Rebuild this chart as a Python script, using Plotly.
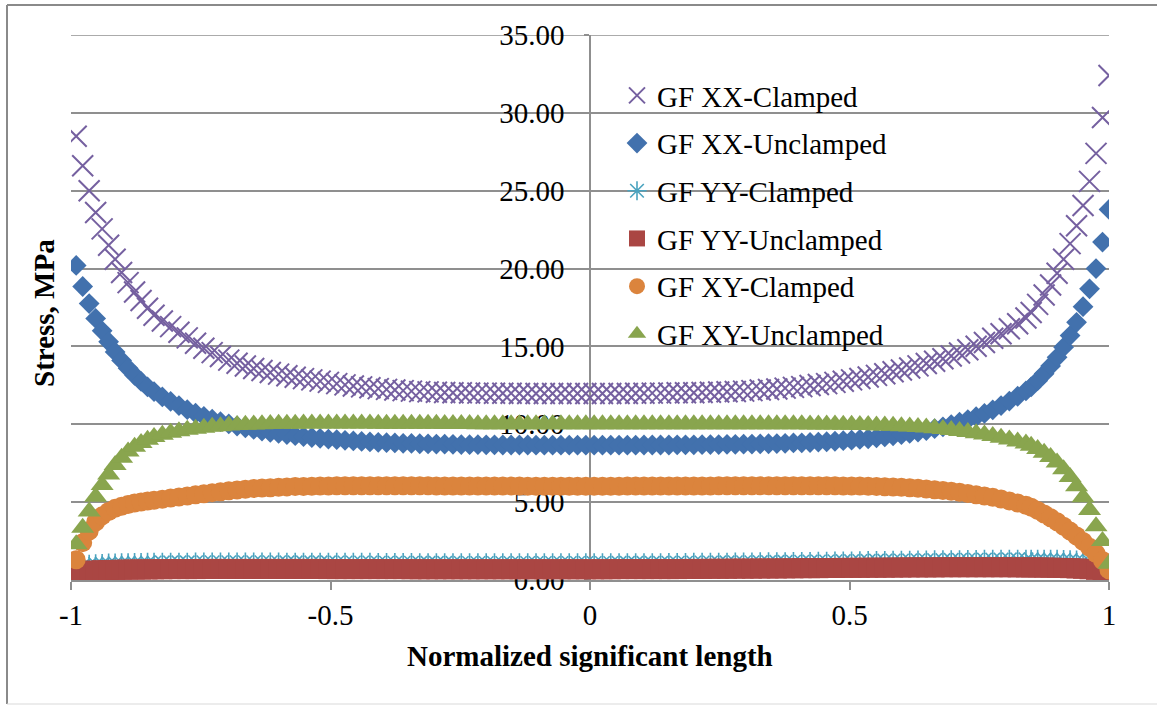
import plotly.graph_objects as go

# Normalized positions along the significant length (finer spacing near both ends)
x_pos = [
    -0.99, -0.9775, -0.965, -0.9525, -0.94, -0.9275, -0.915, -0.9025, -0.89, -0.8775, -0.865, -0.8525, -0.84,
    -0.824, -0.808, -0.792, -0.776, -0.76, -0.744, -0.728, -0.712, -0.696, -0.68, -0.664, -0.648, -0.632, -0.616, -0.6,
    -0.584, -0.568, -0.552, -0.536, -0.52, -0.504, -0.488, -0.472, -0.456, -0.44, -0.424, -0.408, -0.392, -0.376, -0.36,
    -0.344, -0.328, -0.312, -0.296, -0.28, -0.264, -0.248, -0.232, -0.216, -0.2, -0.184, -0.168, -0.152, -0.136, -0.12,
    -0.104, -0.088, -0.072, -0.056, -0.04, -0.024, -0.008, 0.008, 0.024, 0.04, 0.056, 0.072, 0.088, 0.104, 0.12,
    0.136, 0.152, 0.168, 0.184, 0.2, 0.216, 0.232, 0.248, 0.264, 0.28, 0.296, 0.312, 0.328, 0.344, 0.36,
    0.376, 0.392, 0.408, 0.424, 0.44, 0.456, 0.472, 0.488, 0.504, 0.52, 0.536, 0.552, 0.568, 0.584, 0.6,
    0.616, 0.632, 0.648, 0.664, 0.68, 0.696, 0.712, 0.728, 0.744, 0.76, 0.776, 0.792, 0.808, 0.824, 0.84,
    0.85, 0.8625, 0.875, 0.8875, 0.9, 0.9125, 0.925, 0.9375, 0.95, 0.9625, 0.975, 0.9875, 1.0,
]

# Stress values, MPa
gf_xx_clamped = [
    28.5, 26.6, 25.0, 23.6, 22.55, 21.5, 20.6, 19.75, 19.1, 18.5, 17.95, 17.45, 17.0,
    16.63, 16.27, 15.91, 15.55, 15.2, 14.88, 14.6, 14.35, 14.12, 13.92, 13.74, 13.58, 13.45, 13.33, 13.22,
    13.12, 13.02, 12.93, 12.85, 12.77, 12.69, 12.61, 12.53, 12.46, 12.4, 12.35, 12.29, 12.24, 12.2, 12.16,
    12.13, 12.1, 12.08, 12.06, 12.04, 12.03, 12.02, 12.01, 12.0, 12.0, 11.99, 11.99, 11.99, 11.98, 11.98,
    11.98, 11.98, 11.98, 11.98, 11.98, 11.98, 11.98, 11.98, 11.98, 11.98, 11.98, 11.98, 11.99, 11.99, 12.0,
    12.0, 12.01, 12.02, 12.02, 12.03, 12.04, 12.06, 12.07, 12.09, 12.11, 12.13, 12.16, 12.2, 12.23, 12.27,
    12.32, 12.37, 12.42, 12.49, 12.55, 12.61, 12.69, 12.76, 12.85, 12.94, 13.04, 13.14, 13.25, 13.37, 13.49,
    13.62, 13.75, 13.9, 14.05, 14.21, 14.39, 14.58, 14.79, 15.01, 15.25, 15.52, 15.81, 16.13, 16.46, 16.83,
    17.18, 17.7, 18.3, 18.95, 19.7, 20.6, 21.6, 22.75, 24.05, 25.6, 27.4, 29.7, 32.4,
]

gf_xx_unclamped = [
    20.2, 18.85, 17.75, 16.8, 16.0, 15.3, 14.65, 14.1, 13.6, 13.15, 12.75, 12.4, 12.1,
    11.76, 11.47, 11.2, 10.94, 10.71, 10.51, 10.33, 10.17, 10.02, 9.89, 9.77, 9.67, 9.57, 9.48, 9.41,
    9.34, 9.27, 9.21, 9.15, 9.1, 9.05, 9.01, 8.97, 8.93, 8.9, 8.87, 8.84, 8.82, 8.8, 8.78,
    8.77, 8.75, 8.74, 8.73, 8.72, 8.71, 8.7, 8.69, 8.69, 8.68, 8.68, 8.67, 8.67, 8.67, 8.67,
    8.66, 8.66, 8.66, 8.66, 8.66, 8.66, 8.66, 8.66, 8.66, 8.66, 8.66, 8.66, 8.66, 8.67, 8.67,
    8.67, 8.67, 8.68, 8.68, 8.68, 8.69, 8.7, 8.7, 8.71, 8.71, 8.72, 8.73, 8.74, 8.75, 8.76,
    8.78, 8.8, 8.81, 8.83, 8.86, 8.88, 8.91, 8.95, 8.98, 9.03, 9.07, 9.13, 9.19, 9.26, 9.33,
    9.41, 9.5, 9.6, 9.72, 9.84, 9.98, 10.13, 10.3, 10.49, 10.7, 10.93, 11.2, 11.49, 11.8, 12.14,
    12.4, 12.8, 13.25, 13.75, 14.3, 14.95, 15.7, 16.55, 17.55, 18.7, 20.0, 21.7, 23.8,
]

gf_yy_clamped = [
    0.85, 0.92, 0.97, 1.0, 1.02, 1.04, 1.05, 1.06, 1.07, 1.08, 1.08, 1.09, 1.09,
    1.1, 1.1, 1.1, 1.1, 1.11, 1.11, 1.11, 1.11, 1.11, 1.11, 1.11, 1.11, 1.11, 1.11, 1.11,
    1.1, 1.1, 1.1, 1.1, 1.1, 1.1, 1.09, 1.09, 1.09, 1.09, 1.09, 1.08, 1.08, 1.08, 1.08,
    1.08, 1.07, 1.07, 1.07, 1.07, 1.07, 1.06, 1.06, 1.06, 1.06, 1.06, 1.06, 1.06, 1.06, 1.06,
    1.06, 1.06, 1.06, 1.06, 1.06, 1.06, 1.06, 1.06, 1.06, 1.06, 1.07, 1.07, 1.07, 1.07, 1.07,
    1.07, 1.08, 1.08, 1.08, 1.09, 1.09, 1.09, 1.1, 1.1, 1.11, 1.11, 1.11, 1.12, 1.12, 1.13,
    1.13, 1.14, 1.14, 1.15, 1.16, 1.16, 1.17, 1.18, 1.18, 1.19, 1.2, 1.21, 1.21, 1.22, 1.22,
    1.23, 1.24, 1.24, 1.25, 1.25, 1.26, 1.26, 1.27, 1.27, 1.28, 1.28, 1.28, 1.29, 1.29, 1.29,
    1.29, 1.29, 1.29, 1.28, 1.28, 1.27, 1.26, 1.24, 1.22, 1.19, 1.15, 1.08, 0.95,
]

gf_yy_unclamped = [
    0.52, 0.56, 0.59, 0.61, 0.63, 0.64, 0.65, 0.66, 0.67, 0.67, 0.68, 0.68, 0.69,
    0.69, 0.7, 0.7, 0.7, 0.7, 0.71, 0.71, 0.71, 0.71, 0.71, 0.71, 0.71, 0.71, 0.71, 0.71,
    0.71, 0.71, 0.71, 0.71, 0.71, 0.7, 0.7, 0.7, 0.7, 0.7, 0.7, 0.7, 0.7, 0.7, 0.7,
    0.69, 0.69, 0.69, 0.69, 0.69, 0.69, 0.69, 0.69, 0.69, 0.69, 0.69, 0.69, 0.69, 0.69, 0.69,
    0.69, 0.69, 0.69, 0.69, 0.69, 0.69, 0.69, 0.69, 0.69, 0.69, 0.7, 0.7, 0.7, 0.7, 0.7,
    0.7, 0.7, 0.7, 0.71, 0.71, 0.71, 0.72, 0.72, 0.72, 0.73, 0.73, 0.73, 0.74, 0.74, 0.74,
    0.75, 0.75, 0.76, 0.76, 0.76, 0.77, 0.77, 0.78, 0.78, 0.78, 0.79, 0.79, 0.79, 0.8, 0.8,
    0.81, 0.81, 0.81, 0.81, 0.82, 0.82, 0.82, 0.82, 0.82, 0.82, 0.82, 0.82, 0.82, 0.81, 0.81,
    0.81, 0.8, 0.8, 0.79, 0.78, 0.77, 0.76, 0.74, 0.72, 0.69, 0.65, 0.59, 0.5,
]

gf_xy_clamped = [
    1.3, 2.4, 3.15, 3.72, 4.12, 4.4, 4.6, 4.74, 4.85, 4.94, 5.01, 5.07, 5.12,
    5.18, 5.26, 5.33, 5.4, 5.47, 5.54, 5.61, 5.67, 5.73, 5.78, 5.83, 5.87, 5.91, 5.93, 5.96,
    5.98, 6.0, 6.01, 6.02, 6.03, 6.04, 6.05, 6.05, 6.05, 6.05, 6.05, 6.05, 6.05, 6.05, 6.05,
    6.05, 6.05, 6.05, 6.04, 6.04, 6.04, 6.04, 6.04, 6.03, 6.03, 6.03, 6.03, 6.03, 6.03, 6.02,
    6.02, 6.02, 6.02, 6.02, 6.02, 6.02, 6.02, 6.02, 6.02, 6.02, 6.02, 6.03, 6.03, 6.03, 6.03,
    6.03, 6.03, 6.03, 6.04, 6.04, 6.04, 6.04, 6.05, 6.05, 6.05, 6.05, 6.05, 6.05, 6.05, 6.05,
    6.05, 6.05, 6.05, 6.05, 6.05, 6.05, 6.05, 6.04, 6.04, 6.03, 6.02, 6.0, 5.99, 5.97, 5.95,
    5.92, 5.89, 5.85, 5.8, 5.75, 5.7, 5.63, 5.56, 5.48, 5.4, 5.31, 5.2, 5.08, 4.95, 4.8,
    4.68, 4.47, 4.24, 4.0, 3.74, 3.45, 3.14, 2.82, 2.48, 2.1, 1.7, 1.25, 0.65,
]

gf_xy_unclamped = [
    2.3, 3.35, 4.4, 5.35, 6.1, 6.78, 7.38, 7.85, 8.25, 8.55, 8.8, 9.0, 9.18,
    9.33, 9.46, 9.56, 9.65, 9.72, 9.78, 9.84, 9.88, 9.92, 9.95, 9.97, 9.99, 10.01, 10.02, 10.03,
    10.04, 10.04, 10.05, 10.05, 10.05, 10.05, 10.05, 10.05, 10.05, 10.05, 10.05, 10.04, 10.04, 10.04, 10.04,
    10.03, 10.03, 10.03, 10.03, 10.02, 10.02, 10.02, 10.02, 10.01, 10.01, 10.01, 10.01, 10.0, 10.0, 10.0,
    10.0, 10.0, 10.0, 10.0, 10.0, 10.0, 10.0, 10.0, 10.0, 10.0, 10.0, 10.0, 10.0, 10.0, 10.0,
    10.0, 10.0, 10.0, 10.0, 10.0, 10.0, 10.0, 10.0, 10.0, 10.0, 10.0, 10.0, 10.0, 10.0, 10.0,
    10.0, 10.0, 10.0, 9.99, 9.99, 9.99, 9.98, 9.97, 9.97, 9.96, 9.95, 9.93, 9.92, 9.9, 9.88,
    9.86, 9.83, 9.79, 9.74, 9.69, 9.64, 9.57, 9.5, 9.43, 9.34, 9.25, 9.14, 9.03, 8.9, 8.76,
    8.62, 8.42, 8.18, 7.9, 7.55, 7.12, 6.62, 6.02, 5.32, 4.5, 3.45, 2.5, 1.05,
]

x_tick_vals = [-1, -0.5, 0, 0.5, 1]
x_tick_text = ["-1", "-0.5", "0", "0.5", "1"]
y_tick_vals = [0, 5, 10, 15, 20, 25, 30, 35]

FONT = "Liberation Serif, Times New Roman, serif"
GRID = "#8f8f8f"

series = [
    ("GF XX-Clamped", gf_xx_clamped, dict(symbol="x-thin-open", size=21, color="#7560a0",
                                           line=dict(width=2, color="#7560a0"))),
    ("GF XX-Unclamped", gf_xx_unclamped, dict(symbol="diamond", size=16, color="#4271ad",
                                               line=dict(width=0))),
    ("GF YY-Clamped", gf_yy_clamped, dict(symbol="asterisk-open", size=17, color="#4aa3bf",
                                           line=dict(width=1.6, color="#4aa3bf"))),
    ("GF YY-Unclamped", gf_yy_unclamped, dict(symbol="square", size=20, color="#aa4643",
                                               line=dict(width=0))),
    ("GF XY-Clamped", gf_xy_clamped, dict(symbol="circle", size=19, color="#db843d",
                                           line=dict(width=0))),
    ("GF XY-Unclamped", gf_xy_unclamped, dict(symbol="triangle-up", size=20, color="#89a54e",
                                               line=dict(width=0))),
]

for _, vals, _ in series:
    if len(vals) != len(x_pos):
        raise ValueError("series length does not match positions")

fig = go.Figure()
for i, (name, vals, mk) in enumerate(series):
    fig.add_trace(go.Scatter(
        x=x_pos, y=vals, mode="markers", name=name, marker=mk,
        legendgroup=f"g{i}",
    ))

W, H = 1157, 705
L, R, T, B = 71, 48, 35, 125
pw, ph = W - L - R, H - T - B


def px_x(p):
    return (p - L) / pw


def px_y(p):
    return (H - B - p) / ph


fig.update_layout(
    width=W, height=H,
    margin=dict(l=L, r=R, t=T, b=B),
    paper_bgcolor="white", plot_bgcolor="white",
    font=dict(family=FONT, size=28, color="black"),
    showlegend=True,
    legend=dict(
        x=px_x(617), y=px_y(70), xanchor="left", yanchor="top",
        bgcolor="rgba(0,0,0,0)", borderwidth=0,
        font=dict(family=FONT, size=29, color="black"),
        tracegroupgap=7, itemwidth=30,
    ),
    xaxis=dict(
        range=[-1, 1], tickvals=x_tick_vals, ticktext=x_tick_text,
        showgrid=False, zeroline=False,
        showline=True, linecolor=GRID, linewidth=1.5,
        ticks="outside", ticklen=8, tickcolor=GRID, tickwidth=1.5,
        ticklabelstandoff=0,
        tickfont=dict(family=FONT, size=29, color="black"),
        layer="below traces",
    ),
    yaxis=dict(
        range=[0, 35], tickvals=y_tick_vals, tickformat=".2f",
        anchor="free", position=0.5,
        showgrid=True, gridcolor=GRID, gridwidth=1.5, zeroline=False,
        showline=True, linecolor=GRID, linewidth=1.5,
        ticks="outside", ticklen=5, tickcolor=GRID, tickwidth=1.5,
        ticklabelstandoff=14,
        tickfont=dict(family=FONT, size=29, color="black"),
        layer="below traces",
    ),
    annotations=[
        dict(text="<b>Stress, MPa</b>", xref="paper", yref="paper",
             x=px_x(44), y=px_y(313), textangle=-90, showarrow=False,
             font=dict(family=FONT, size=29, color="black"),
             xanchor="center", yanchor="middle"),
        dict(text="<b>Normalized significant length</b>", xref="paper", yref="paper",
             x=0.5, y=px_y(656), showarrow=False,
             font=dict(family=FONT, size=29, color="black"),
             xanchor="center", yanchor="middle"),
    ],
    shapes=[
        # chart frame
        dict(type="line", xref="paper", yref="paper", x0=px_x(7), x1=px_x(1157),
             y0=px_y(5), y1=px_y(5), line=dict(color="#8a8a8a", width=2)),
        dict(type="line", xref="paper", yref="paper", x0=px_x(7), x1=px_x(7),
             y0=px_y(5), y1=px_y(704), line=dict(color="#8a8a8a", width=2)),
        dict(type="line", xref="paper", yref="paper", x0=px_x(7), x1=px_x(1157),
             y0=px_y(704), y1=px_y(704), line=dict(color="#d9d9d9", width=1)),
        # top gridline at the range limit
        dict(type="line", xref="paper", yref="y", x0=0, x1=1, y0=35, y1=35,
             line=dict(color=GRID, width=1.5), layer="below"),
    ],
)

fig.write_html("out.html")
